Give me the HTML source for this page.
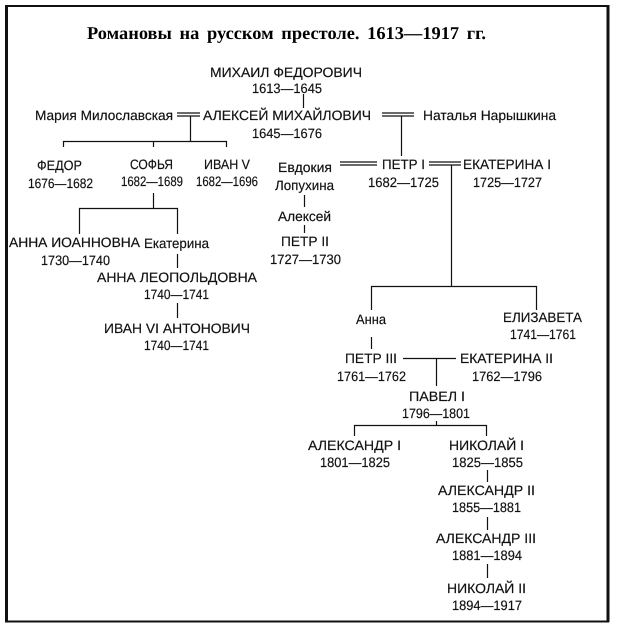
<!DOCTYPE html>
<html><head><meta charset="utf-8">
<style>
html,body{margin:0;padding:0;background:#fff;width:623px;height:634px;overflow:hidden}
svg{display:block}
text{font-family:"Liberation Sans",sans-serif;font-size:13.7px;fill:#111;stroke:#111;stroke-width:.18;text-rendering:geometricPrecision}
.t{font-family:"Liberation Serif",serif;font-size:18px;font-weight:bold;fill:#000;stroke:none;word-spacing:3px}
.l{stroke:#111;stroke-width:1.2;fill:none}
</style></head><body>
<svg width="623" height="634" viewBox="0 0 623 634" xmlns="http://www.w3.org/2000/svg">
<g stroke="#111" fill="none">
<path d="M6.5 6V622" stroke-width="3"/>
<path d="M5 6H609" stroke-width="2"/>
<path d="M608 5V622" stroke-width="3"/>
<path d="M5 621.5H609" stroke-width="2"/>
</g>
<text class="t" x="87" y="39" textLength="399" lengthAdjust="spacingAndGlyphs">Романовы на русском престоле. 1613—1917 гг.</text>
<g>
<text x="210" y="77" textLength="152" lengthAdjust="spacingAndGlyphs">МИХАИЛ ФЕДОРОВИЧ</text>
<text x="252" y="93" textLength="70" lengthAdjust="spacingAndGlyphs">1613—1645</text>
<text x="35" y="120" textLength="138" lengthAdjust="spacingAndGlyphs">Мария Милославская</text>
<text x="203" y="120" textLength="168" lengthAdjust="spacingAndGlyphs">АЛЕКСЕЙ МИХАЙЛОВИЧ</text>
<text x="252" y="138" textLength="70" lengthAdjust="spacingAndGlyphs">1645—1676</text>
<text x="423" y="120" textLength="133" lengthAdjust="spacingAndGlyphs">Наталья Нарышкина</text>
<text x="37" y="170" textLength="45" lengthAdjust="spacingAndGlyphs">ФЕДОР</text>
<text x="28" y="188" textLength="65" lengthAdjust="spacingAndGlyphs">1676—1682</text>
<text x="130" y="169" textLength="43" lengthAdjust="spacingAndGlyphs">СОФЬЯ</text>
<text x="121" y="186" textLength="62" lengthAdjust="spacingAndGlyphs">1682—1689</text>
<text x="204" y="169" textLength="46" lengthAdjust="spacingAndGlyphs">ИВАН V</text>
<text x="196" y="186" textLength="62" lengthAdjust="spacingAndGlyphs">1682—1696</text>
<text x="278" y="172" textLength="54" lengthAdjust="spacingAndGlyphs">Евдокия</text>
<text x="275" y="190" textLength="59" lengthAdjust="spacingAndGlyphs">Лопухина</text>
<text x="278" y="221" textLength="53" lengthAdjust="spacingAndGlyphs">Алексей</text>
<text x="281" y="246" textLength="48" lengthAdjust="spacingAndGlyphs">ПЕТР II</text>
<text x="270" y="264" textLength="71" lengthAdjust="spacingAndGlyphs">1727—1730</text>
<text x="382" y="169" textLength="43" lengthAdjust="spacingAndGlyphs">ПЕТР I</text>
<text x="368" y="187" textLength="71" lengthAdjust="spacingAndGlyphs">1682—1725</text>
<text x="463" y="169" textLength="88" lengthAdjust="spacingAndGlyphs">ЕКАТЕРИНА I</text>
<text x="473" y="187" textLength="69" lengthAdjust="spacingAndGlyphs">1725—1727</text>
<text x="9" y="247" textLength="131" lengthAdjust="spacingAndGlyphs">АННА ИОАННОВНА</text>
<text x="41" y="265" textLength="69" lengthAdjust="spacingAndGlyphs">1730—1740</text>
<text x="144" y="248" textLength="65" lengthAdjust="spacingAndGlyphs">Екатерина</text>
<text x="97" y="282" textLength="160" lengthAdjust="spacingAndGlyphs">АННА ЛЕОПОЛЬДОВНА</text>
<text x="144" y="299" textLength="65" lengthAdjust="spacingAndGlyphs">1740—1741</text>
<text x="104" y="333" textLength="146" lengthAdjust="spacingAndGlyphs">ИВАН VI АНТОНОВИЧ</text>
<text x="144" y="350" textLength="65" lengthAdjust="spacingAndGlyphs">1740—1741</text>
<text x="356" y="324" textLength="30" lengthAdjust="spacingAndGlyphs">Анна</text>
<text x="503" y="322" textLength="79" lengthAdjust="spacingAndGlyphs">ЕЛИЗАВЕТА</text>
<text x="510" y="339" textLength="66" lengthAdjust="spacingAndGlyphs">1741—1761</text>
<text x="345" y="363" textLength="52" lengthAdjust="spacingAndGlyphs">ПЕТР III</text>
<text x="337" y="381" textLength="69" lengthAdjust="spacingAndGlyphs">1761—1762</text>
<text x="460" y="363" textLength="93" lengthAdjust="spacingAndGlyphs">ЕКАТЕРИНА II</text>
<text x="472" y="381" textLength="70" lengthAdjust="spacingAndGlyphs">1762—1796</text>
<text x="409" y="401" textLength="56" lengthAdjust="spacingAndGlyphs">ПАВЕЛ I</text>
<text x="402" y="418" textLength="68" lengthAdjust="spacingAndGlyphs">1796—1801</text>
<text x="308" y="450" textLength="93" lengthAdjust="spacingAndGlyphs">АЛЕКСАНДР I</text>
<text x="320" y="467" textLength="70" lengthAdjust="spacingAndGlyphs">1801—1825</text>
<text x="449" y="450" textLength="75" lengthAdjust="spacingAndGlyphs">НИКОЛАЙ I</text>
<text x="452" y="467" textLength="71" lengthAdjust="spacingAndGlyphs">1825—1855</text>
<text x="438" y="495" textLength="97" lengthAdjust="spacingAndGlyphs">АЛЕКСАНДР II</text>
<text x="452" y="512" textLength="69" lengthAdjust="spacingAndGlyphs">1855—1881</text>
<text x="436" y="543" textLength="100" lengthAdjust="spacingAndGlyphs">АЛЕКСАНДР III</text>
<text x="452" y="560" textLength="70" lengthAdjust="spacingAndGlyphs">1881—1894</text>
<text x="447" y="593" textLength="79" lengthAdjust="spacingAndGlyphs">НИКОЛАЙ II</text>
<text x="452" y="610" textLength="70" lengthAdjust="spacingAndGlyphs">1894—1917</text>
</g>
<g class="l">
<path d="M303.5 94V108"/>
<path d="M177 113H200M177 116H200"/>
<path d="M190.5 116V141.5M63.5 147V141.5H226.5V147M153.5 141.5V147"/>
<path d="M153.5 193V208.5M79.5 234V208.5H177.5V234"/>
<path d="M177.5 254V268M177.5 303V318"/>
<path d="M382 113H414M382 116H414M401.5 116V156"/>
<path d="M340 162H377M340 165H377"/>
<path d="M429 162H461M429 165H461"/>
<path d="M451.5 165V286.5M371.5 310V286.5H536.5V310"/>
<path d="M304.5 195V207M304.5 225V233"/>
<path d="M371.5 337V349"/>
<path d="M403 358.5H456M436.5 358.5V386"/>
<path d="M436.5 421V425.5M354.5 436V425.5H486.5V436"/>
<path d="M487.5 470V482M487.5 517V530M487.5 564V578"/>
</g>
</svg>
</body></html>
